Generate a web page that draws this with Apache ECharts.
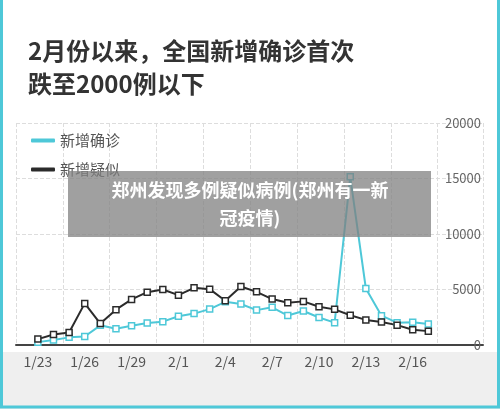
<!DOCTYPE html><html><head><meta charset="utf-8"><script src="https://cdn.jsdelivr.net/npm/echarts@6/dist/echarts.min.js"></script></head><body style="margin:0"><div id="c" style="width:500px;height:409px"></div><script>
const dates=['1/23','1/24','1/25','1/26','1/27','1/28','1/29','1/30','1/31','2/1','2/2','2/3','2/4','2/5','2/6','2/7','2/8','2/9','2/10','2/11','2/12','2/13','2/14','2/15','2/16','2/17'];
const confirmed=[259,444,688,769,1771,1459,1737,1982,2102,2590,2829,3235,3887,3694,3143,3399,2656,3062,2478,2015,15152,5090,2641,2009,2048,1886];
const suspected=[530,950,1130,3750,1930,3180,4110,4760,5000,4490,5150,5030,3990,5270,4790,4140,3810,3930,3450,3210,2680,2260,2080,1790,1370,1250];
const ch=echarts.init(document.getElementById('c'));
const F='"Noto Sans CJK SC",sans-serif';
const C1='#4ec8d8',C2='#2b2b2b';
ch.setOption({animation:false,backgroundColor:'#fff',
graphic:[
{type:'rect',z:-10,shape:{x:0,y:352,width:500,height:57},style:{fill:'#efefef'}},
{type:'rect',z:100,shape:{x:1.5,y:-5,width:497,height:412},style:{fill:'none',stroke:C1,lineWidth:3}},
{type:'text',left:28,top:34,style:{text:'2月份以来，全国新增确诊首次\n跌至2000例以下',font:'bold 24px '+F,fill:'#333',lineHeight:33}},
{type:'rect',z:50,shape:{x:68,y:171,width:363,height:66},style:{fill:'rgba(128,128,128,0.75)'}},
{type:'text',z:51,x:250,y:176,style:{text:'郑州发现多例疑似病例(郑州有一新\n冠疫情)',font:'bold 18px '+F,fill:'#fff',align:'center',lineHeight:28}}
],
legend:{orient:'vertical',left:26,top:128,itemGap:14,itemWidth:24,itemHeight:4,icon:'roundRect',textStyle:{fontFamily:F,fontSize:15,color:'#555'},
data:[{name:'新增确诊',itemStyle:{color:C1,borderWidth:0}},{name:'新增疑似',itemStyle:{color:C2,borderWidth:0}}]},
grid:{left:16,right:17,top:123,bottom:64},
xAxis:{type:'value',min:-1.4,max:28.5,interval:3,
axisLine:{onZero:false,lineStyle:{color:'#444',width:2}},axisTick:{show:false},
axisLabel:{fontFamily:F,fontSize:14,color:'#555',margin:10,formatter:v=>dates[Math.round(v)]||'',customValues:[0,3,6,9,12,15,18,21,24]},
splitLine:{show:true,lineStyle:{color:'#ddd',type:'dashed'}}},
yAxis:{type:'value',position:'right',min:0,max:20000,interval:5000,
axisLine:{show:false},axisTick:{show:false},
axisLabel:{inside:true,fontFamily:F,fontSize:13,color:'#666',margin:2,verticalAlign:'middle',formatter:v=>String(v)},
splitLine:{lineStyle:{color:'#ddd',type:'dashed'}}},
series:[
{name:'新增确诊',type:'line',data:confirmed.map((v,i)=>[i,v]),lineStyle:{width:2,color:C1},symbol:'rect',symbolSize:6,itemStyle:{color:'#fff',borderColor:C1,borderWidth:1.5}},
{name:'新增疑似',type:'line',data:suspected.map((v,i)=>[i,v]),lineStyle:{width:2,color:C2},symbol:'rect',symbolSize:6,itemStyle:{color:'#fff',borderColor:C2,borderWidth:1.5}}
]});
</script></body></html>
